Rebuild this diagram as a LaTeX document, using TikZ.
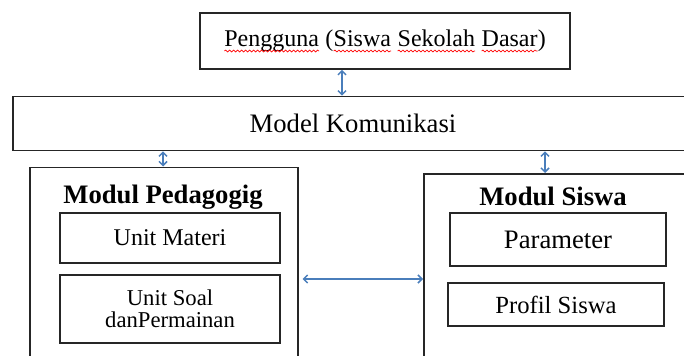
\documentclass[tikz,border=0pt]{standalone}
\usepackage{fontspec}
\setmainfont{Liberation Serif}
\usetikzlibrary{arrows.meta,decorations.pathmorphing}
\definecolor{biru}{RGB}{74,126,187}
\newcommand\ejaan[1]{\tikz[baseline=(w.base)]{\node[draw=none, inner sep=0pt, outer sep=0pt,
    minimum width=0pt, minimum height=0pt, anchor=base] (w) {#1};
  \draw[red, line width=0.5pt, decorate, decoration={snake, amplitude=0.7pt, segment length=3pt}]
    ([yshift=-3.5pt]w.base west) -- ([yshift=-3.5pt]w.base east);}}

\begin{document}
\begin{tikzpicture}[x=0.75pt, y=-0.75pt,
    kotak/.style={draw=black!85, line width=1.2pt, rectangle, inner sep=0pt, align=center},
    judul/.style={anchor=base, font=\bfseries\fontsize{20}{24}\selectfont},
    panah/.style={draw=biru, line width=1.1pt,
      {Straight Barb[length=3pt,width=6pt]}-{Straight Barb[length=3pt,width=6pt]}}]
    \useasboundingbox (0,0) rectangle (684,356);
    \clip (0,0) rectangle (684,356);

    \node[kotak, minimum width=277.5pt, minimum height=42pt, font=\fontsize{18}{22}\selectfont] (user) at (385,41)
      {\ejaan{Pengguna} (\ejaan{Siswa} \ejaan{Sekolah} \ejaan{Dasar})};
    \node[kotak, minimum width=510pt, minimum height=40.5pt, font=\fontsize{20}{24}\selectfont] (komunikasi) at (353,123.5)
      {Model Komunikasi};

    \node[kotak, minimum width=200.6pt, minimum height=172.5pt, anchor=north] (pedagogi) at (164,166.5) {};
    \node[judul] (judulpedagogi) at (163,203) {Modul Pedagogig};
    \node[kotak, minimum width=165pt, minimum height=37.5pt, font=\fontsize{18}{22}\selectfont] (materi) at (170,238) {Unit Materi};
    \node[kotak, minimum width=165pt, minimum height=51pt, font=\fontsize{17}{16.5}\selectfont] (soal) at (170,309)
      {Unit Soal\\danPermainan};

    \node[kotak, minimum width=225pt, minimum height=172.5pt, anchor=north west] (siswa) at (423,173) {};
    \node[judul] (judulsiswa) at (553,205) {Modul Siswa};
    \node[kotak, minimum width=162pt, minimum height=39.75pt, font=\fontsize{20}{24}\selectfont] (parameter) at (558,239.5) {Parameter};
    \node[kotak, minimum width=162pt, minimum height=32.25pt, font=\fontsize{18.5}{22}\selectfont] (profil) at (556,304.5) {Profil Siswa};

    \coordinate (k1) at (342,0);
    \coordinate (k2) at (163,0);
    \coordinate (k3) at (545,0);
    \coordinate (b1) at (0,279);
    \draw[panah] (user.south -| k1) -- (komunikasi.north -| k1);
    \draw[panah] (komunikasi.south -| k2) -- (pedagogi.north -| k2);
    \draw[panah] (komunikasi.south -| k3) -- (siswa.north -| k3);
    \draw[panah] ([xshift=3pt]pedagogi.east |- b1) -- (siswa.west |- b1);
\end{tikzpicture}
\end{document}
